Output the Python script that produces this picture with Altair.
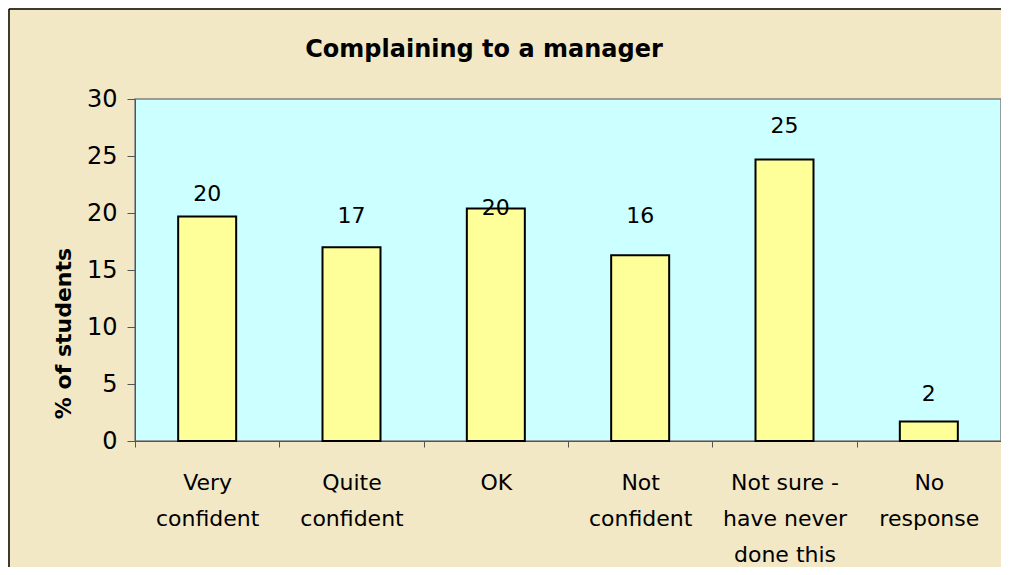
import altair as alt
import pandas as pd

chart_title = "Complaining to a manager"
categories = [
    "Very confident",
    "Quite confident",
    "OK",
    "Not confident",
    "Not sure - have never done this",
    "No response",
]
values = [19.7, 17.0, 20.4, 16.3, 24.7, 1.7]
# where each value label sits above its bar (in % units above the bar top)
label_offsets = [2.0, 2.7, 0.0, 3.4, 2.9, 2.4]
y_ticks = [0, 5, 10, 15, 20, 25, 30]

df = pd.DataFrame({"category": categories, "value": values, "offset": label_offsets})

FONT = "DejaVu Sans"

x_enc = alt.X(
    "category:N",
    sort=categories,
    scale=alt.Scale(paddingInner=0, paddingOuter=0),
    axis=alt.Axis(
        title=None,
        labelAngle=0,
        tickBand="extent",
        tickSize=6,
        tickColor="#555555",
        domainColor="#555555",
        labelFont=FONT,
        labelFontSize=22,
        labelColor="black",
        labelLineHeight=36,
        labelPadding=25,
        labelLimit=0,
        labelOverlap=False,
        labelExpr="!isValid(datum.value) ? '' : (datum.value == 'Not sure - have never done this' ? ['Not sure -', 'have never', 'done this'] : split(datum.value, ' '))",
    ),
)

y_axis = alt.Axis(
    values=y_ticks,
    title="% of students",
    titleFont=FONT,
    titleFontSize=22,
    titleFontWeight="bold",
    titleColor="black",
    titleAngle=270,
    titleAlign="center",
    titleBaseline="alphabetic",
    titleX=-65,
    titleY=234,
    grid=False,
    tickSize=8,
    tickColor="#555555",
    domainColor="#555555",
    labelFont=FONT,
    labelFontSize=24,
    labelColor="black",
    labelPadding=10,
)
y_scale = alt.Scale(domain=[0, 30], nice=False)

base = alt.Chart(df)

bars = base.mark_bar(size=58, fill="#FFFF99", stroke="black", strokeWidth=2).encode(
    x=x_enc,
    y=alt.Y("value:Q", scale=y_scale, axis=y_axis),
)

labels = base.transform_calculate(label_y="datum.value + datum.offset").mark_text(
    font=FONT, fontSize=22, baseline="middle", color="black"
).encode(
    x=x_enc,
    y=alt.Y("label_y:Q", scale=y_scale, axis=y_axis),
    text=alt.Text("value:Q", format=".0f"),
)

single = alt.Chart(alt.Data(values=[{"k": 1}]))
frame_left = single.mark_rule(color="black", strokeWidth=1.5).encode(
    x=alt.value(-126), y=alt.value(-90), y2=alt.value(470)
)
frame_top = single.mark_rule(color="black", strokeWidth=1.5).encode(
    x=alt.value(-126), x2=alt.value(870), y=alt.value(-90)
)
title_text = single.mark_text(
    font=FONT, fontSize=24, fontWeight="bold", color="black",
    align="center", baseline="alphabetic",
).encode(x=alt.value(349), y=alt.value(-42), text=alt.value(chart_title))

chart = (
    alt.layer(bars, labels, frame_left, frame_top, title_text)
    .properties(
        width=866,
        height=342,
        background="#F2E8C6",
        autosize=alt.AutoSizeParams(type="none"),
        padding={"left": 127, "top": 91, "right": 0, "bottom": 126},
    )
    .configure_view(fill="#CCFFFF", stroke="#808080", strokeWidth=1.5)
)

chart.save("out.html", embed_options={"renderer": "svg", "actions": False})
